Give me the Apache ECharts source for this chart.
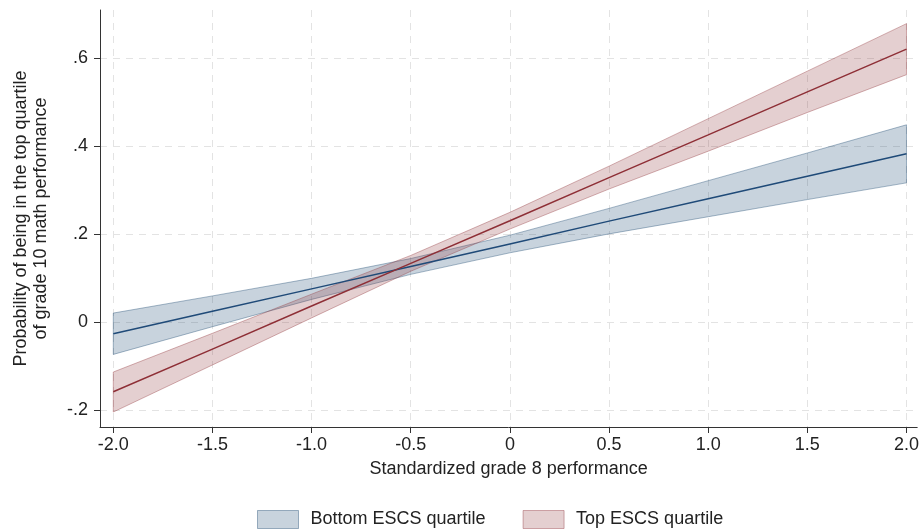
<!DOCTYPE html>
<html>
<head>
<meta charset="utf-8">
<script src="https://cdn.jsdelivr.net/npm/echarts@6/dist/echarts.min.js"></script>
<style>
  html, body { margin: 0; padding: 0; background: #fff; }
  #box { width: 922px; height: 531px; }
</style>
</head>
<body>
<div id="box"></div>
<script>
// values
var xs = [-2, -1.5, -1, -0.5, 0, 0.5, 1, 1.5, 2];
var bottomFit = [-0.027, 0.024, 0.075, 0.126, 0.177, 0.229, 0.280, 0.331, 0.382];
var bottomLo = [-0.074, -0.011, 0.051, 0.108, 0.157, 0.200, 0.239, 0.278, 0.316];
var bottomHi = [0.020, 0.059, 0.099, 0.144, 0.197, 0.258, 0.321, 0.384, 0.448];
var topFit = [-0.159, -0.062, 0.036, 0.133, 0.230, 0.328, 0.425, 0.523, 0.620];
var topLo = [-0.205, -0.098, 0.009, 0.115, 0.211, 0.302, 0.388, 0.476, 0.562];
var topHi = [-0.114, -0.026, 0.063, 0.151, 0.249, 0.354, 0.462, 0.570, 0.678];

var xTicks = [-2, -1.5, -1, -0.5, 0, 0.5, 1, 1.5, 2];
var xTickLabels = ['-2.0', '-1.5', '-1.0', '-0.5', '0', '0.5', '1.0', '1.5', '2.0'];
var yTicks = [-0.2, 0, 0.2, 0.4, 0.6];
var yTickLabels = ['-.2', '0', '.2', '.4', '.6'];

var FONT = 'Liberation Sans';

function bandData(lo, hi) {
    var d = [];
    for (var i = 0; i < xs.length; i++) {
        d.push([xs[i], lo[i], hi[i]]);
    }
    return d;
}

function lineData(ys) {
    var d = [];
    for (var i = 0; i < xs.length; i++) {
        d.push([xs[i], ys[i]]);
    }
    return d;
}

// whole band as one polygon, built from the data through the axes
function bandRenderer(data, fill, stroke) {
    return function (params, api) {
        if (params.dataIndex !== 0) return null;
        var pts = [];
        for (var i = 0; i < data.length; i++) {
            pts.push(api.coord([data[i][0], data[i][2]]));
        }
        for (var j = data.length - 1; j >= 0; j--) {
            pts.push(api.coord([data[j][0], data[j][1]]));
        }
        return {
            type: 'polygon',
            shape: { points: pts },
            style: { fill: fill, stroke: stroke, lineWidth: 1 }
        };
    };
}

var bData = bandData(bottomLo, bottomHi);
var tData = bandData(topLo, topHi);

var myChart = echarts.init(document.getElementById('box'));
var option = {
    backgroundColor: '#fff',
    animation: false,
    textStyle: { fontFamily: FONT },
    grid: { left: 100, right: 4, top: 10, bottom: 104 },
    legend: {
        left: 252,
        top: 505,
        itemWidth: 41,
        itemHeight: 18,
        itemGap: 37,
        icon: 'rect',
        textStyle: { fontFamily: FONT, fontSize: 18, color: '#222', padding: [0, 0, 0, 7] },
        data: [
            { name: 'Bottom ESCS quartile', itemStyle: { color: 'rgba(26,71,111,0.24)', borderColor: 'rgba(26,71,111,0.4)', borderWidth: 1 } },
            { name: 'Top ESCS quartile', itemStyle: { color: 'rgba(144,53,59,0.24)', borderColor: 'rgba(144,53,59,0.4)', borderWidth: 1 } }
        ]
    },
    xAxis: {
        type: 'value',
        min: -2.067,
        max: 2.054,
        name: 'Standardized grade 8 performance',
        nameLocation: 'middle',
        nameGap: 33,
        nameTextStyle: { fontFamily: FONT, fontSize: 18, color: '#222' },
        axisLine: { show: true, onZero: false, lineStyle: { color: '#333', width: 1 } },
        axisTick: { show: true, customValues: xTicks, length: 6, lineStyle: { color: '#333' } },
        axisLabel: {
            customValues: xTicks,
            fontFamily: FONT, fontSize: 18, color: '#222', margin: 9,
            formatter: function (v) {
                var i = xTicks.indexOf(v);
                return i >= 0 ? xTickLabels[i] : '';
            }
        },
        splitLine: { show: true, lineStyle: { color: '#e3e3e3', type: [7, 6], width: 1 } }
    },
    yAxis: {
        type: 'value',
        min: -0.239,
        max: 0.709,
        name: 'Probability of being in the top quartile\nof grade 10 math performance',
        nameLocation: 'middle',
        nameRotate: 90,
        nameGap: 49,
        nameTextStyle: { fontFamily: FONT, fontSize: 18, color: '#222', lineHeight: 20 },
        axisLine: { show: true, onZero: false, lineStyle: { color: '#333', width: 1 } },
        axisTick: { show: true, customValues: yTicks, length: 6, lineStyle: { color: '#333' } },
        axisLabel: {
            customValues: yTicks,
            fontFamily: FONT, fontSize: 18, color: '#222', margin: 12,
            formatter: function (v) {
                for (var i = 0; i < yTicks.length; i++) {
                    if (Math.abs(yTicks[i] - v) < 1e-9) return yTickLabels[i];
                }
                return '';
            }
        },
        splitLine: { show: true, lineStyle: { color: '#e3e3e3', type: [7, 6], width: 1 } }
    },
    series: [
        {
            name: 'Bottom ESCS quartile',
            type: 'custom',
            data: bData,
            encode: { x: 0, y: [1, 2] },
            itemStyle: { color: 'rgba(26,71,111,0.24)' },
            renderItem: bandRenderer(bData, 'rgba(26,71,111,0.24)', 'rgba(26,71,111,0.38)'),
            z: 2
        },
        {
            name: 'Top ESCS quartile',
            type: 'custom',
            data: tData,
            encode: { x: 0, y: [1, 2] },
            itemStyle: { color: 'rgba(144,53,59,0.24)' },
            renderItem: bandRenderer(tData, 'rgba(144,53,59,0.24)', 'rgba(144,53,59,0.38)'),
            z: 3
        },
        {
            name: 'bottom fit',
            type: 'line',
            data: lineData(bottomFit),
            showSymbol: false,
            lineStyle: { color: '#1f4a78', width: 1.5 },
            itemStyle: { color: '#1f4a78' },
            z: 4
        },
        {
            name: 'top fit',
            type: 'line',
            data: lineData(topFit),
            showSymbol: false,
            lineStyle: { color: '#8e2f36', width: 1.5 },
            itemStyle: { color: '#8e2f36' },
            z: 5
        }
    ]
};
myChart.setOption(option);
</script>
</body>
</html>
